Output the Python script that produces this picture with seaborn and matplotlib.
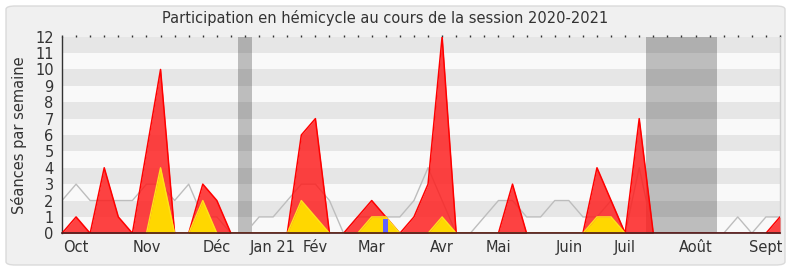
import numpy as np
import pandas as pd
import seaborn as sns
import matplotlib
matplotlib.use("Agg")
import matplotlib.pyplot as plt
from matplotlib.patches import FancyBboxPatch

# ---- data (one value per week, Sept 2020 -> Sept 2021) ----
weeks = list(range(52))
presence = [0, 1, 0, 4, 1, 0, 5, 10, 0, 0, 3, 2, 0, 0, 0, 0, 0, 6, 7, 0,
            0, 1, 2, 1, 0, 1, 3, 12, 0, 0, 0, 0, 3, 0, 0, 0, 0, 0, 4, 2,
            0, 7, 0, 0, 0, 0, 0, 0, 0, 0, 0, 1]
interventions = [0, 0, 0, 0, 0, 0, 0, 4, 0, 0, 2, 0, 0, 0, 0, 0, 0, 2, 1, 0,
                 0, 0, 1, 1, 0, 0, 0, 1, 0, 0, 0, 0, 0, 0, 0, 0, 0, 0, 1, 1,
                 0, 0, 0, 0, 0, 0, 0, 0, 0, 0, 0, 0]
median = [2, 3, 2, 2, 2, 2, 3, 3, 2, 3, 1, 1, 0, 0, 1, 1, 2, 3, 3, 2,
          0, 1, 1, 1, 1, 2, 4, 2, 0, 0, 1, 2, 2, 1, 1, 2, 2, 1, 1, 2,
          0, 4, 0, 0, 0, 0, 0, 0, 1, 0, 1, 1]
question_weeks = [23]
question_values = [0.85]
month_labels = ["Oct", "Nov", "Déc", "Jan 21", "Fév", "Mar", "Avr", "Mai",
                "Juin", "Juil", "Août", "Sept"]
month_weeks = [1, 6, 11, 15, 18, 22, 27, 31, 36, 40, 45, 50]
vacation_start = [12.5, 41.5]
vacation_end = [13.5, 46.5]
y_ticks = list(range(13))

df = pd.DataFrame({"week": weeks, "presence": presence,
                   "interventions": interventions, "median": median})


def edge(series):
    """Hide the outline along flat runs of zeros."""
    v = np.asarray(series, dtype=float)
    out = v.copy()
    for i in range(len(v)):
        lft = v[i - 1] if i > 0 else 0
        rgt = v[i + 1] if i < len(v) - 1 else 0
        if v[i] == 0 and lft == 0 and rgt == 0:
            out[i] = np.nan
    return out


df["presence_edge"] = edge(df["presence"])
df["interventions_edge"] = edge(df["interventions"])

sns.set_theme(style="white")
plt.rcParams["font.family"] = ["DejaVu Sans"]

W, H = 790, 267
fig = plt.figure(figsize=(W / 100, H / 100), dpi=100, facecolor="white")
frame = FancyBboxPatch((6 / W, 2 / H), (779 / W), (259 / H),
                       boxstyle="round,pad=0,rounding_size=0.012",
                       transform=fig.transFigure, facecolor="#F0F0F0",
                       edgecolor="#DADADA", linewidth=1, zorder=-10)
fig.patches.append(frame)

left, right, top, bottom = 62, 780, 36.7, 233.3
ax = fig.add_axes([left / W, 1 - bottom / H, (right - left) / W, (bottom - top) / H])
ax.set_zorder(1)
ax.set_facecolor("#F9F9F9")

# stripes
for k in range(12):
    ax.axhspan(k, k + 1, color="#E6E6E6" if k % 2 == 1 else "#F9F9F9", lw=0, zorder=0)

# vacations
for a, b in zip(vacation_start, vacation_end):
    ax.axvspan(a, b, color="black", alpha=0.24, lw=0, zorder=1)

# median line
sns.lineplot(data=df, x="week", y="median", color="#BDBDBD", lw=1, ax=ax, zorder=2)

# presence area
ax.fill_between(df["week"], df["presence"], color="#FF1A1A", alpha=0.82, lw=0, zorder=3)
sns.lineplot(data=df, x="week", y="presence_edge", color="#FF0000", lw=1.1, ax=ax, zorder=3.5)

# interventions area
ax.fill_between(df["week"], df["interventions"], color="#FFD700", lw=0, zorder=4)
sns.lineplot(data=df, x="week", y="interventions_edge", color="#FFE21A", lw=1.0, ax=ax, zorder=4.5)

# questions
ax.bar(question_weeks, question_values, width=0.33, color="#6161FF", lw=0, zorder=5)

ax.set_xlim(0, 51)
ax.set_ylim(0, 12)
ax.set_yticks(y_ticks)
ax.set_yticklabels([str(v) for v in y_ticks], fontsize=10.5, color="#333333")
ax.set_xticks(weeks)
lab = [""] * len(weeks)
for m, w in zip(month_labels, month_weeks):
    lab[w] = m
ax.set_xticklabels(lab, fontsize=10.5, color="#333333")
ax.tick_params(axis="x", direction="out", length=4, width=0.8, color="#333333", pad=1)
ax.tick_params(axis="y", direction="out", length=4, width=0.8, color="#333333", pad=2)
ax.set_xlabel("")
ax.set_ylabel("Séances par semaine", fontsize=10.5, color="#333333", labelpad=6)

# top tick dots
sec = ax.secondary_xaxis("top")
sec.set_xticks(weeks)
sec.set_xticklabels([])
sec.tick_params(direction="out", length=1.5, width=1, color="#333333")
sec.spines["top"].set_visible(False)

ax.spines["top"].set_visible(False)
ax.spines["right"].set_color("#D0D0D0")
ax.spines["right"].set_linewidth(1)
ax.spines["left"].set_color("#333333")
ax.spines["left"].set_linewidth(1)
ax.spines["bottom"].set_color("#4A1A1A")
ax.spines["bottom"].set_linewidth(1.2)
ax.spines["bottom"].set_zorder(6)

fig.text(385 / W, 1 - 18 / H,
         "Participation en hémicycle au cours de la session 2020-2021",
         ha="center", va="center", fontsize=10.5, color="#333333")

fig.savefig("out.png", dpi=100, facecolor="white")
